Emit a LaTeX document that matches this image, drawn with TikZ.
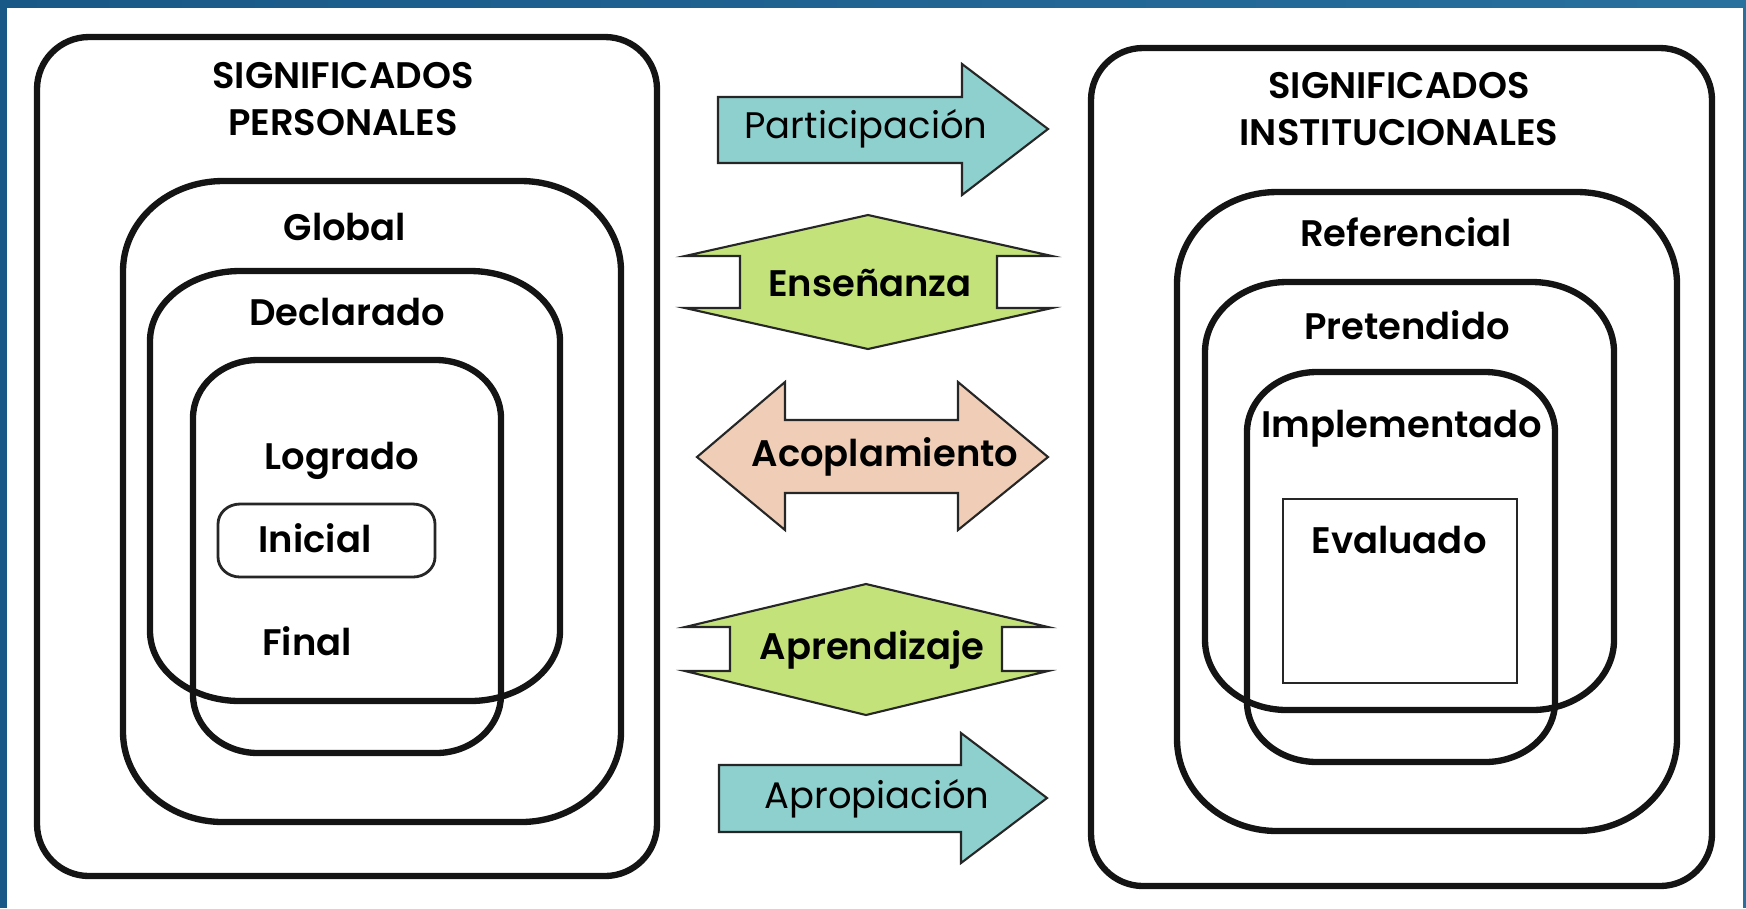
\documentclass[tikz,border=0pt]{standalone}
\usepackage{fontspec}
\setmainfont{Poppins}[BoldFont={Poppins SemiBold}]
\usepackage{tikz}

\definecolor{frameblue}{RGB}{24,88,135}
\definecolor{framelight}{RGB}{40,112,158}
\definecolor{partcol}{RGB}{141,208,206}
\definecolor{greencol}{RGB}{196,226,122}
\definecolor{peachcol}{RGB}{239,205,182}

\tikzset{
  boxline/.style={line width=1.8pt, black!92},
  thinbox/.style={line width=0.8pt, black!85},
  shapeline/.style={draw=black!85, line width=0.6pt},
  bold/.style={font=\bfseries\fontsize{10.5}{13.5}\selectfont, align=center},
  plain/.style={font=\fontsize{10.5}{13}\selectfont}
}

% oval box: x1,y1,x2,y2,rx,ry
\newcommand{\sigbox}[7][boxline]{%
  \draw[#1] (#2+#6,#3) -- (#4-#6,#3)
    arc[start angle=-90, end angle=0, x radius=#6, y radius=#7]
    -- (#4,#5-#7)
    arc[start angle=0, end angle=90, x radius=#6, y radius=#7]
    -- (#2+#6,#5)
    arc[start angle=90, end angle=180, x radius=#6, y radius=#7]
    -- (#2,#3+#7)
    arc[start angle=180, end angle=270, x radius=#6, y radius=#7] -- cycle;}

\begin{document}
\begin{tikzpicture}[x=0.01cm, y=-0.01cm]
  \useasboundingbox (0,0) rectangle (1746,908);

  % Frame
  \shade[left color=frameblue, right color=framelight] (0,0) rectangle (1746,7);
  \fill[frameblue] (0,0) rectangle (7,908);
  \fill[framelight] (1743,0) rectangle (1746,908);

  % Personal meanings
  \sigbox{37}{37}{657}{876}{52}{52}
  \sigbox{123}{181}{621}{822}{100}{90}
  \sigbox{150}{271}{560}{701}{90}{70}
  \sigbox{193}{360}{501}{753}{65}{58}
  \sigbox[thinbox]{218}{504}{435}{577}{22}{20}

  \node[bold] (pers) at (343,99) {SIGNIFICADOS\\PERSONALES};
  \node[bold] (global) at (345,227) {Global};
  \node[bold] (decl) at (347,312) {Declarado};
  \node[bold] (logr) at (342,461) {Logrado};
  \node[bold] (inic) at (315,538) {Inicial};
  \node[bold] (final) at (307,641) {Final};

  % Institutional meanings
  \sigbox{1091}{48}{1712}{886}{52}{52}
  \sigbox{1177}{192}{1677}{831}{100}{92}
  \sigbox{1205}{282}{1614}{710}{82}{70}
  \sigbox{1247}{372}{1555}{762}{70}{60}
  \draw[thinbox] (1283,499) rectangle (1517,683);

  \node[bold] (inst) at (1399,109) {SIGNIFICADOS\\INSTITUCIONALES};
  \node[bold] (refe) at (1406,232) {Referencial};
  \node[bold] (pret) at (1407,325) {Pretendido};
  \node[bold] (impl) at (1402,429) {Implementado};
  \node[bold] (eval) at (1399,540) {Evaluado};

  % Arrows
  \filldraw[shapeline, fill=partcol] (718,97) -- (962,97) -- (962,64) -- (1048,129)
    -- (962,195) -- (962,163) -- (718,163) -- cycle;
  \node[plain] (part) at (866,129) {Participación};

  \filldraw[shapeline, fill=greencol] (868,215) -- (685,256) -- (740,256) -- (740,308)
    -- (685,308) -- (868,349) -- (1052,308) -- (997,308) -- (997,256) -- (1052,256) -- cycle;
  \node[bold] (ense) at (870,283) {Enseñanza};

  \filldraw[shapeline, fill=peachcol] (697,457) -- (785,382) -- (785,420) -- (958,420)
    -- (958,382) -- (1048,457) -- (958,530) -- (958,493) -- (785,493) -- (785,530) -- cycle;
  \node[bold] (acop) at (885,457) {Acoplamiento};

  \filldraw[shapeline, fill=greencol] (866,584) -- (685,627) -- (730,627) -- (730,671)
    -- (685,671) -- (866,715) -- (1048,671) -- (1002,671) -- (1002,627) -- (1048,627) -- cycle;
  \node[bold] (apre) at (872,650) {Aprendizaje};

  \filldraw[shapeline, fill=partcol] (719,765) -- (961,765) -- (961,733) -- (1047,798)
    -- (961,863) -- (961,832) -- (719,832) -- cycle;
  \node[plain] (apro) at (877,799) {Apropiación};
\end{tikzpicture}
\end{document}
